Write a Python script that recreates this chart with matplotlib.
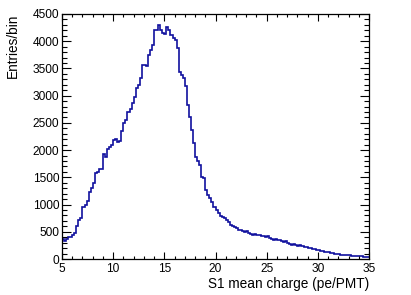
import numpy as np
import matplotlib
matplotlib.use('Agg')
import matplotlib.pyplot as plt
from matplotlib.ticker import MultipleLocator

# Histogram: S1 mean charge, 150 bins of 0.2 pe/PMT from 5 to 35
bin_edges = np.linspace(5, 35, 151)
counts = [
    370, 330, 360, 410, 400, 440, 470, 600, 720, 760,
    950, 1000, 1060, 1230, 1300, 1400, 1580, 1600, 1650, 1660,
    1920, 1880, 2020, 2050, 2090, 2180, 2200, 2150, 2170, 2350,
    2500, 2560, 2700, 2760, 2870, 2980, 3150, 3200, 3330, 3560,
    3570, 3540, 3750, 3840, 3930, 4200, 4200, 4290, 4200, 4150,
    4130, 4270, 4200, 4110, 4060, 4020, 3870, 3440, 3380, 3320,
    3170, 2830, 2610, 2370, 2130, 1880, 1800, 1730, 1510, 1480,
    1270, 1180, 1120, 1050, 960, 900, 840, 790, 780, 750,
    720, 680, 625, 610, 590, 570, 540, 530, 510, 500,
    510, 480, 460, 450, 460, 440, 450, 430, 420, 410,
    420, 380, 360, 350, 360, 350, 340, 330, 320, 330,
    290, 270, 260, 270, 250, 240, 250, 230, 226, 220,
    200, 210, 190, 180, 170, 165, 150, 140, 135, 130,
    120, 110, 105, 100, 92, 90, 80, 75, 73, 70,
    65, 61, 60, 56, 55, 50, 48, 43, 45, 40,
]

plt.rcParams['font.family'] = ['Liberation Sans', 'DejaVu Sans']

fig = plt.figure(figsize=(4.11, 2.95), dpi=100)
ax = fig.add_axes([62 / 411, 36 / 295, 307 / 411, 245 / 295])

ax.stairs(counts, bin_edges, color='#10109e', linewidth=1.2, baseline=None)

ax.set_xlim(5, 35)
ax.set_ylim(0, 4500)
ax.xaxis.set_major_locator(MultipleLocator(5))
ax.xaxis.set_minor_locator(MultipleLocator(1))
ax.yaxis.set_major_locator(MultipleLocator(500))
ax.yaxis.set_minor_locator(MultipleLocator(100))

# ROOT-like ticks on all four sides, pointing inward
ax.tick_params(which='both', direction='in', top=True, right=True,
               labelsize=8.6, width=0.8)
ax.tick_params(axis='x', which='both', pad=3)
ax.tick_params(axis='y', which='both', pad=2)
ax.tick_params(axis='x', which='major', length=5)
ax.tick_params(axis='x', which='minor', length=2.5)
ax.tick_params(axis='y', which='major', length=6.5)
ax.tick_params(axis='y', which='minor', length=3.5)
for s in ax.spines.values():
    s.set_linewidth(0.9)

ax.set_xlabel('S1 mean charge (pe/PMT)', fontsize=9.8, loc='right', labelpad=1)
ax.set_ylabel('Entries/bin', fontsize=9.8, loc='top', labelpad=9)

fig.savefig('out.png', dpi=100)
